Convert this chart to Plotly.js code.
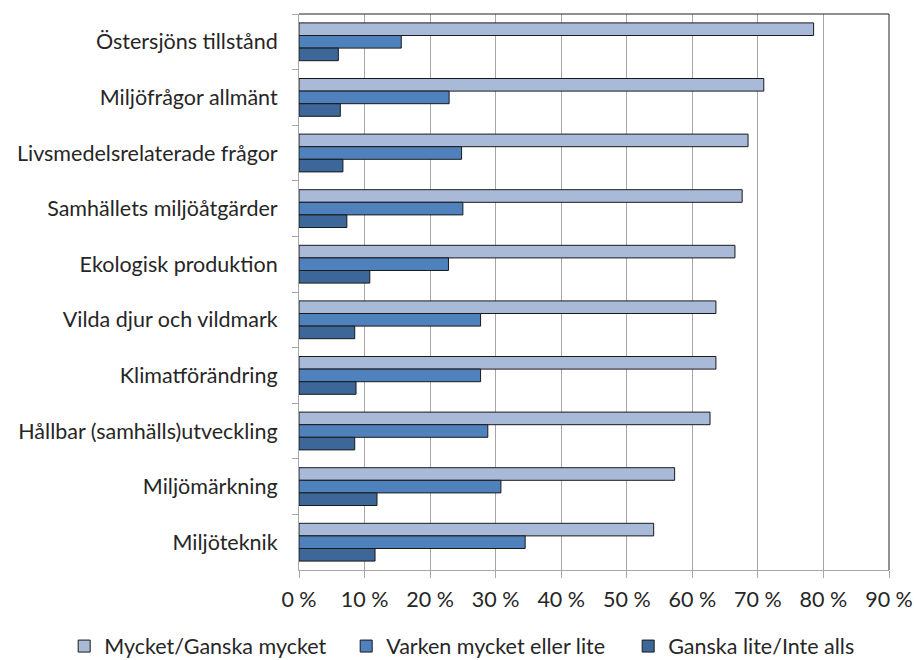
<!DOCTYPE html>
<html><head><meta charset="utf-8">
<script src="https://cdn.plot.ly/plotly-3.0.1.min.js"></script>
<style>body{margin:0;background:#fff}#chart{width:914px;height:660px}</style>
</head><body><div id="chart"></div>
<script>
const categories = ["Östersjöns tillstånd","Miljöfrågor allmänt","Livsmedelsrelaterade frågor","Samhällets miljöåtgärder","Ekologisk produktion","Vilda djur och vildmark","Klimatförändring","Hållbar (samhälls)utveckling","Miljömärkning","Miljöteknik"];
const seriesNames = ["Mycket/Ganska mycket","Varken mycket eller lite","Ganska lite/Inte alls"];
const mycket = [78.5,70.9,68.5,67.6,66.5,63.6,63.6,62.7,57.3,54.1];
const varken = [15.6,22.9,24.8,25.0,22.8,27.7,27.7,28.8,30.8,34.5];
const lite = [6.0,6.3,6.7,7.3,10.8,8.5,8.7,8.5,11.9,11.6];
const xTicks = [0,10,20,30,40,50,60,70,80,90];
const xTickLabels = ["0 %","10 %","20 %","30 %","40 %","50 %","60 %","70 %","80 %","90 %"];
const colors = ["#A9B9D8","#4F81BD","#3D6699"];
const values = [mycket, varken, lite];
const font = "Lato";
const fs = 21.5;
const traces = values.map((v,i)=>({
  type:'bar', orientation:'h', name:seriesNames[i], x:v, y:categories,
  marker:{color:colors[i], line:{color:'#1a1a1a', width:1}}, hoverinfo:'x+y'
}));
const layout = {
  width:914, height:660, margin:{l:299,r:25,t:14,b:90, autoexpand:false},
  paper_bgcolor:'#fff', plot_bgcolor:'#fff',
  font:{family:font, size:fs, color:'#262626'},
  barmode:'group', bargap:0.32, bargroupgap:0,
  showlegend:true,
  legend:{orientation:'h', xref:'paper', x:-0.398, xanchor:'left', yref:'paper', y:-0.1, yanchor:'top',
    font:{family:font,size:fs,color:'#262626'}, traceorder:'normal', entrywidth:237, entrywidthmode:'pixels', itemwidth:30},
  xaxis:{range:[0,90], tickmode:'array', tickvals:xTicks, ticktext:xTickLabels, showgrid:true, gridcolor:'#a6a6a6', gridwidth:1,
    showline:true, linecolor:'#a6a6a6', ticks:'outside', ticklen:7, tickcolor:'#a6a6a6', zeroline:false,
    tickfont:{family:font,size:fs,color:'#262626'}, ticklabelstandoff:3, automargin:false},
  yaxis:{autorange:'reversed', type:'category', showline:true, linecolor:'#a6a6a6', ticks:'outside', tickson:'boundaries',
    ticklen:6, tickcolor:'#a6a6a6', showgrid:false, tickfont:{family:font,size:fs,color:'#262626'}, ticklabelstandoff:16, automargin:false},
  shapes:[
    {type:'line', xref:'paper', yref:'paper', x0:0, x1:1, y0:1, y1:1, line:{color:'#222', width:1}},
    {type:'line', xref:'paper', yref:'paper', x0:1, x1:1, y0:0, y1:1, line:{color:'#222', width:1}}
  ]
};
Plotly.newPlot('chart', traces, layout, {displayModeBar:false, staticPlot:true});
</script></body></html>
